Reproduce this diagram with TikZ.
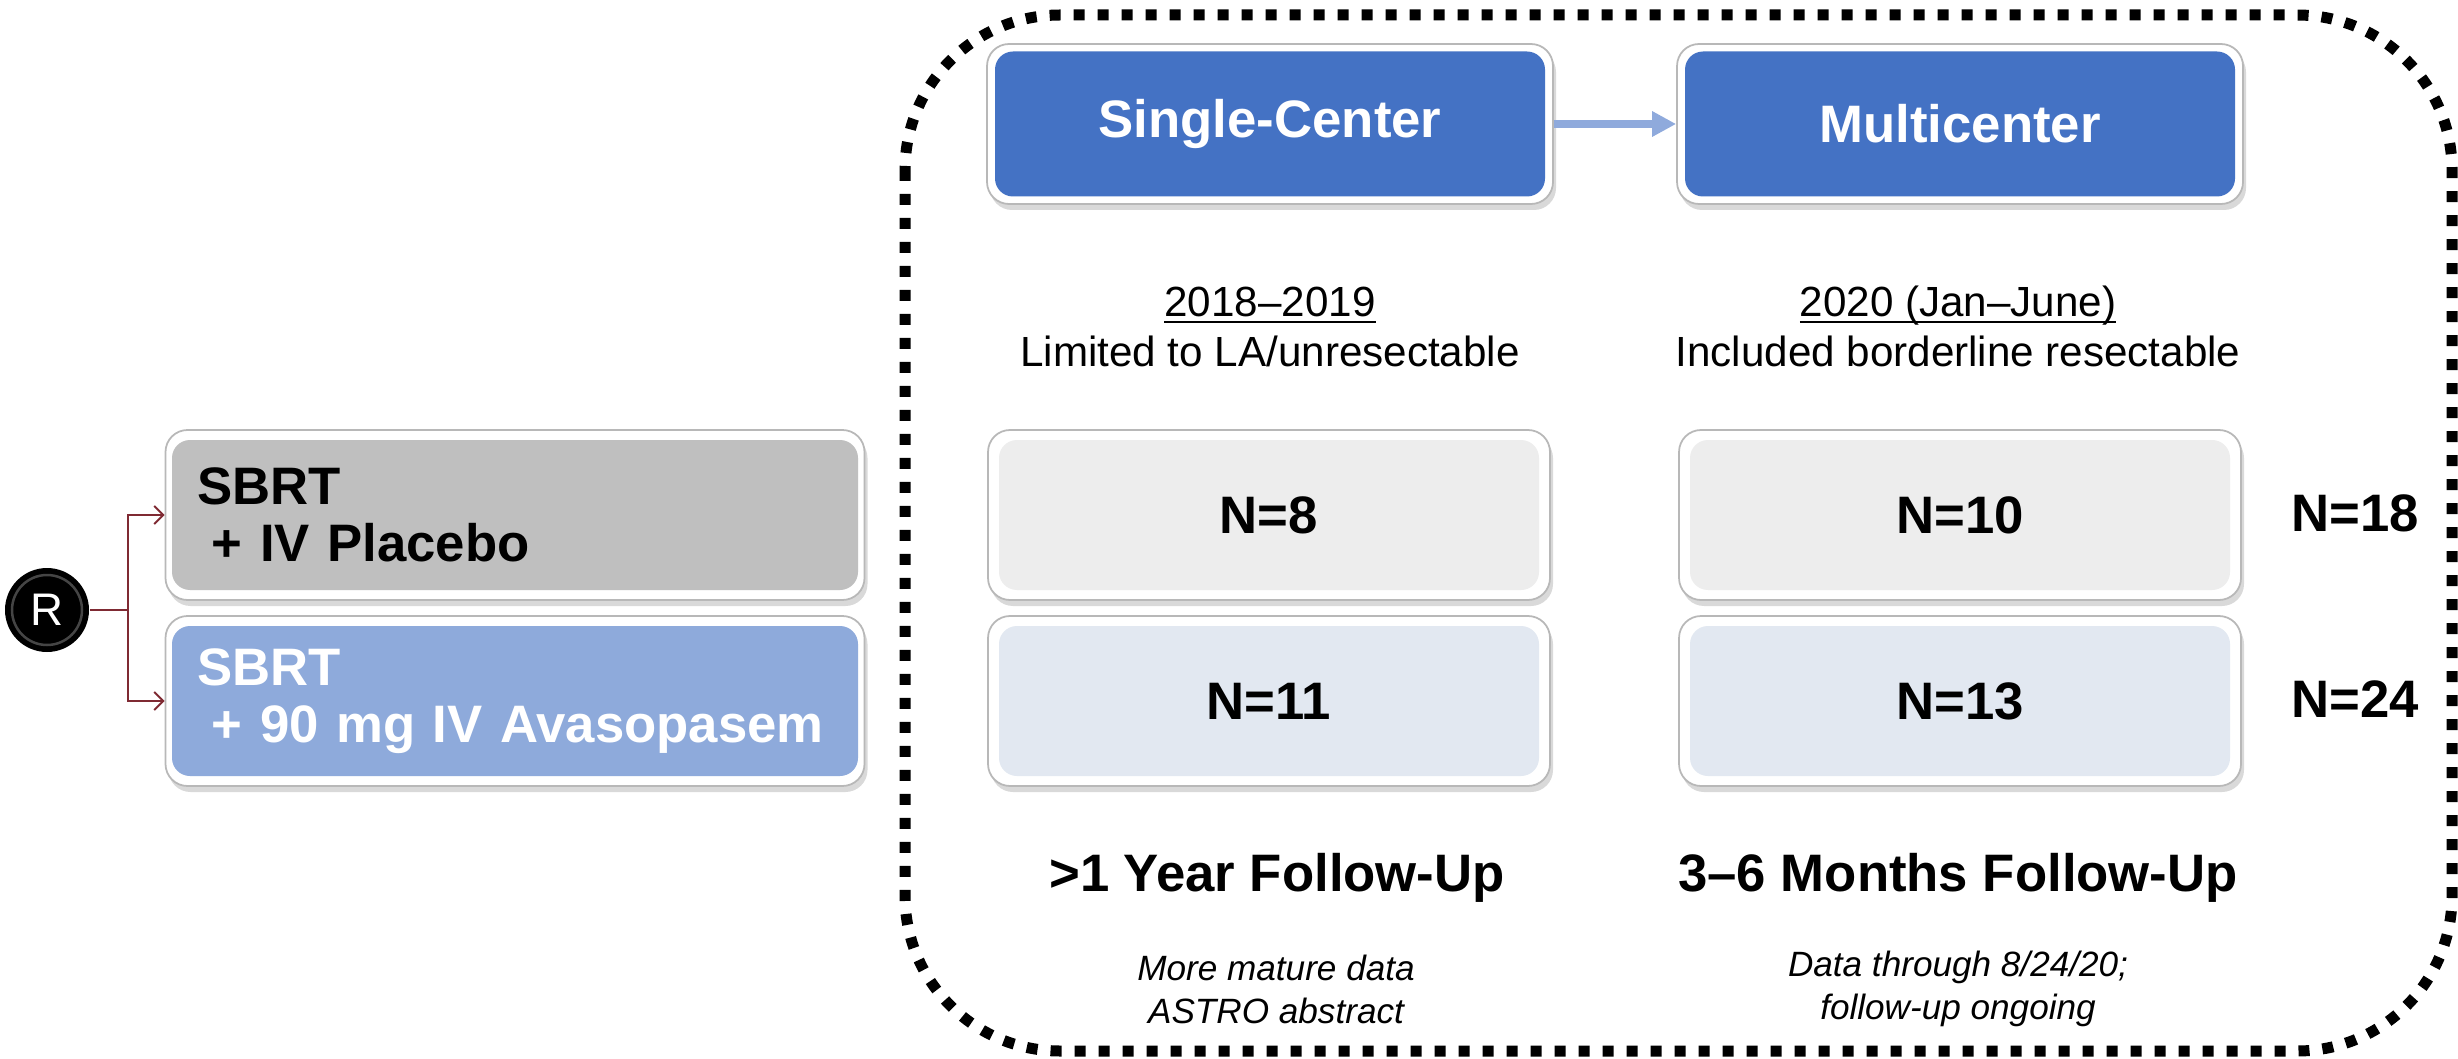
\documentclass[tikz,border=0pt]{standalone}
\usepackage{fontspec}
\setmainfont{Liberation Sans}
\usetikzlibrary{arrows.meta,shadows}
\definecolor{hdrblue}{HTML}{4472C4}
\definecolor{armblue}{HTML}{8EAADB}
\definecolor{armgray}{HTML}{BFBFBF}
\definecolor{ngray}{HTML}{EDEDED}
\definecolor{nblue}{HTML}{E2E8F1}
\definecolor{arrblue}{HTML}{8FAADC}
\definecolor{connred}{HTML}{7F2A33}
\newcommand\myuline[1]{\underline{\smash{#1}\vphantom{0}}}
\begin{document}
\begin{tikzpicture}[x=0.1mm,y=-0.1mm,
  boxframe/.style={draw=black!28, line width=0.5pt, fill=white, rounded corners=2.2mm, inner sep=0pt,
    drop shadow={opacity=0.3, shadow xshift=0.3mm, shadow yshift=-0.6mm}},
  boxcore/.style={rounded corners=1.8mm, inner sep=0pt, font=\fontsize{15}{18}\selectfont\bfseries},
  hdr/.style={boxcore, fill=hdrblue, text=white, minimum width=55mm, minimum height=14.5mm},
  hdrframe/.style={boxframe, minimum width=56.6mm, minimum height=16mm},
  nframe/.style={boxframe, minimum width=56.2mm, minimum height=17mm},
  ncore/.style={boxcore, minimum width=54mm, minimum height=15mm},
  armframe/.style={boxframe, minimum width=69.9mm, minimum height=17mm},
  armcore/.style={boxcore, minimum width=68.6mm, minimum height=15mm, text width=63.6mm, inner xsep=2.5mm, align=left,
    font=\fontsize{15}{16.2}\selectfont\bfseries},
  bigtxt/.style={font=\fontsize{15}{18}\selectfont\bfseries, inner sep=0pt},
  subtxt/.style={align=center, font=\fontsize{12}{14.2}\selectfont, inner sep=0pt},
  notetxt/.style={align=center, font=\fontsize{10}{12.2}\selectfont\itshape, inner sep=0pt},
  conn/.style={draw=connred, line width=0.2mm},
  connarrow/.style={conn, -{Straight Barb[length=0.9mm,width=1.8mm]}},
  blockarrow/.style={draw=arrblue, line width=0.8mm, -{Triangle[length=2.4mm,width=2.4mm]}}
]
\useasboundingbox (0,0) rectangle (2458,1059);

% dashed enclosure
\draw[line width=1.1mm, dash pattern=on 1.1mm off 1.3mm, rounded corners=15.5mm] (905,15) rectangle (2452,1051);

% header boxes
\node[hdrframe] (scf) at (1270,124) {};
\node[hdr] (sc) at (scf) {Single-Center};
\node[hdrframe] (mcf) at (1960,124) {};
\node[hdr] (mc) at (mcf) {Multicenter};
\draw[blockarrow] (scf.east) -- (mcf.west);

% period labels
\node[subtxt] (y1) at (1270,327) {\myuline{2018–2019}\\Limited to LA/unresectable};
\node[subtxt] (y2) at (1958,327) {\myuline{2020 (Jan–June)}\\Included borderline resectable};

% N boxes
\node[nframe] (n8f) at (1269,515) {};
\node[ncore, fill=ngray] (n8) at (n8f) {N=8};
\node[nframe] (n10f) at (1960,515) {};
\node[ncore, fill=ngray] (n10) at (n10f) {N=10};
\node[nframe] (n11f) at (1269,701) {};
\node[ncore, fill=nblue] (n11) at (n11f) {N=11};
\node[nframe] (n13f) at (1960,701) {};
\node[ncore, fill=nblue] (n13) at (n13f) {N=13};

\node[bigtxt] (n18) at (2355,513) {N=18};
\node[bigtxt] (n24) at (2355,699) {N=24};

% follow-up
\node[bigtxt] (fu1) at (1277,878) {>1 Year Follow-Up};
\node[bigtxt] (fu2) at (1958,878) {3–6 Months Follow-Up};
\node[notetxt] (m1) at (1276,989) {More mature data\\ASTRO abstract};
\node[notetxt] (m2) at (1958,989) {Data through 8/24/20;\\follow-up ongoing};

% arms
\node[armframe] (plf) at (515,515) {};
\node[armcore, fill=armgray, text=black] (pl) at (plf) {SBRT\\\hspace*{0.278em}+ IV Placebo};
\node[armframe] (avf) at (515,701) {};
\node[armcore, fill=armblue, text=white] (av) at (avf) {SBRT\\\hspace*{0.278em}+ 90 mg IV Avasopasem};

% randomisation
\node[circle, fill=black, minimum size=8.4mm, inner sep=0pt, text=white, font=\fontsize{13}{15}\selectfont] (R) at (47,610) {R};
\draw[black!55, line width=0.25mm, opacity=0.6] (R.center) circle[radius=3.5mm];
\coordinate (bus) at (128,610);
\draw[conn] (R.east) -- (bus);
\draw[connarrow] (bus) |- (plf.west);
\draw[connarrow] (bus) |- (avf.west);
\end{tikzpicture}
\end{document}
